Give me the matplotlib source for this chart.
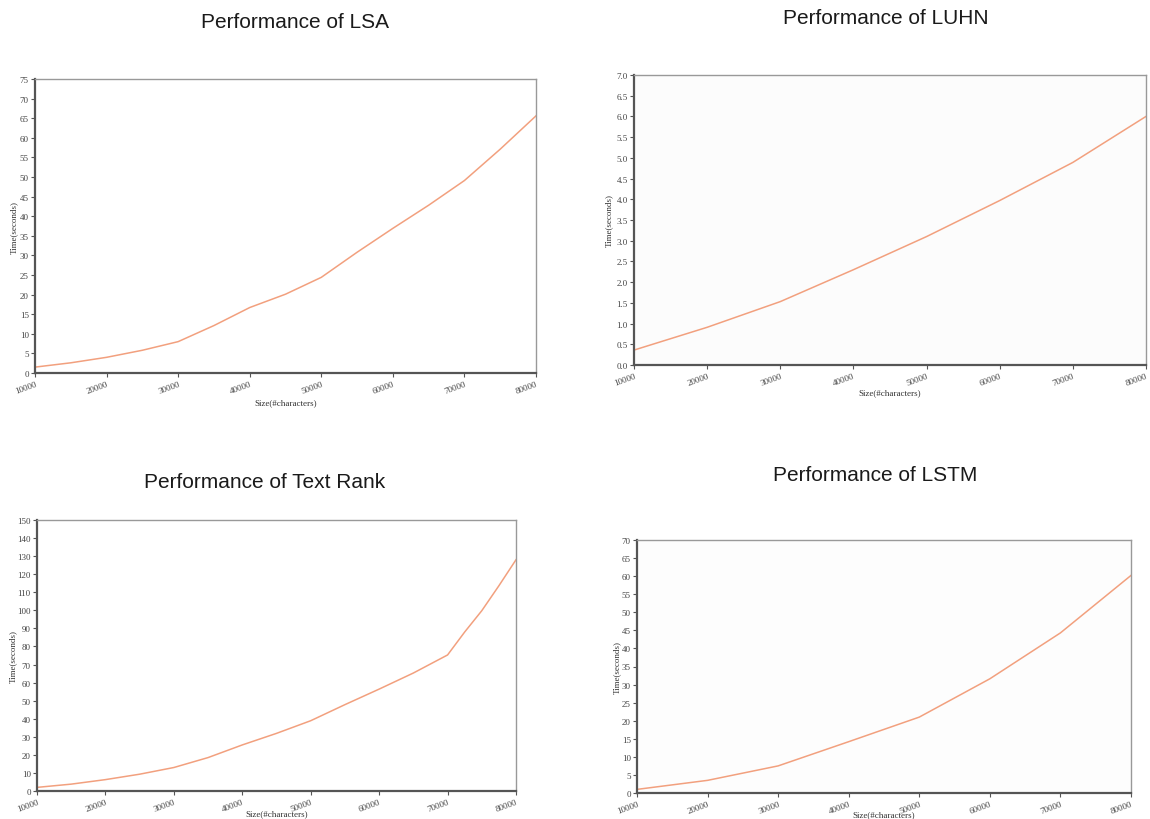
import matplotlib
matplotlib.use("Agg")
import matplotlib.pyplot as plt

# ---- data ----
lsa_x = [10000, 15000, 20000, 25000, 30000, 35000, 40000, 45000, 50000,
         55000, 60000, 65000, 70000, 75000, 80000]
lsa_y = [1.5, 2.6, 4.0, 5.8, 8.0, 12.1, 16.7, 20.1, 24.4,
         30.8, 36.9, 42.8, 49.1, 57.1, 65.6]

luhn_x = [10000, 20000, 30000, 40000, 50000, 60000, 70000, 80000]
luhn_y = [0.36, 0.91, 1.53, 2.3, 3.1, 3.97, 4.89, 6.0]

tr_x = [10000, 15000, 20000, 25000, 30000, 35000, 40000, 45000, 50000,
        55000, 60000, 65000, 70000, 72500, 75000, 77500, 80000]
tr_y = [2.0, 3.8, 6.3, 9.3, 13.0, 18.5, 25.5, 31.9, 38.9,
        47.8, 56.4, 65.3, 75.3, 88.0, 99.8, 113.6, 128.0]

lstm_x = [10000, 20000, 30000, 40000, 50000, 60000, 70000, 80000]
lstm_y = [1.0, 3.5, 7.5, 14.2, 21.0, 31.6, 44.3, 60.2]

titles = ["Performance of LSA", "Performance of LUHN",
          "Performance of Text Rank", "Performance of LSTM"]
x_ticks = [10000, 20000, 30000, 40000, 50000, 60000, 70000, 80000]
y_ticks_lsa = list(range(0, 80, 5))
y_ticks_luhn = [i * 0.5 for i in range(15)]
y_ticks_tr = list(range(0, 160, 10))
y_ticks_lstm = list(range(0, 75, 5))
x_label = "Size(#characters)"
y_label = "Time(seconds)"

W, H = 1150, 820
fig = plt.figure(figsize=(W / 100, H / 100), dpi=100)
fig.patch.set_facecolor("white")

line_color = "#f2a07e"
spine_color = "#555555"
serif = ["Liberation Serif", "DejaVu Serif"]
sans = ["Liberation Sans", "DejaVu Sans"]


def px_axes(l, t, r, b):
    return [l / W, 1 - b / H, (r - l) / W, (b - t) / H]


# rect px, data, yticks, fmt, title pos, facecolor, xlabel offset px, ylabel x px
panels = [
    ((35, 80, 536, 374), lsa_x, lsa_y, y_ticks_lsa, "{:g}", (295, 22), "white", 29, 14),
    ((634, 76, 1146, 366), luhn_x, luhn_y, y_ticks_luhn, "{:.1f}", (886, 19), "#fcfcfc", 27, 609),
    ((37, 521, 516, 792), tr_x, tr_y, y_ticks_tr, "{:g}", (265, 483), "white", 22, 13),
    ((637, 541, 1131, 794), lstm_x, lstm_y, y_ticks_lstm, "{:g}", (875, 476), "#fdfdfd", 21, 617),
]

for (px, xs, ys, yt, fmt, tpos, fc, xoff, ylx), title in zip(panels, titles):
    l, t, r, b = px
    ax = fig.add_axes(px_axes(l, t, r, b))
    ax.set_facecolor(fc)
    ax.plot(xs, ys, color=line_color, lw=1.1)
    ax.set_xlim(10000, 80000)
    ax.set_ylim(yt[0], yt[-1])
    ax.set_xticks(x_ticks)
    ax.set_xticklabels([str(v) for v in x_ticks], rotation=20, ha="right",
                       rotation_mode="anchor", fontsize=6.5, color="#444444",
                       family=serif)
    ax.set_yticks(yt)
    ax.set_yticklabels([fmt.format(v) for v in yt], fontsize=6.5, color="#444444",
                       family=serif)
    ax.tick_params(axis="both", length=3, width=0.8, color=spine_color, pad=1.5)
    for s in ax.spines.values():
        s.set_color("#999999")
        s.set_linewidth(1.0)
    ax.spines["left"].set_color(spine_color)
    ax.spines["bottom"].set_color(spine_color)
    ax.spines["left"].set_linewidth(1.6)
    ax.spines["bottom"].set_linewidth(1.6)
    ax.set_xlabel(x_label, fontsize=6.5, family=serif, color="#333333", va="center")
    ax.xaxis.set_label_coords(0.5, -xoff / (b - t))
    ax.set_ylabel(y_label, fontsize=6.5, family=serif, color="#333333", va="center")
    ax.yaxis.set_label_coords(-(l - ylx) / (r - l), 0.5)
    fig.text(tpos[0] / W, 1 - tpos[1] / H, title, ha="center", va="center",
             fontsize=15, family=sans, color="#1a1a1a")

fig.savefig("out.png", dpi=100, facecolor="white")
